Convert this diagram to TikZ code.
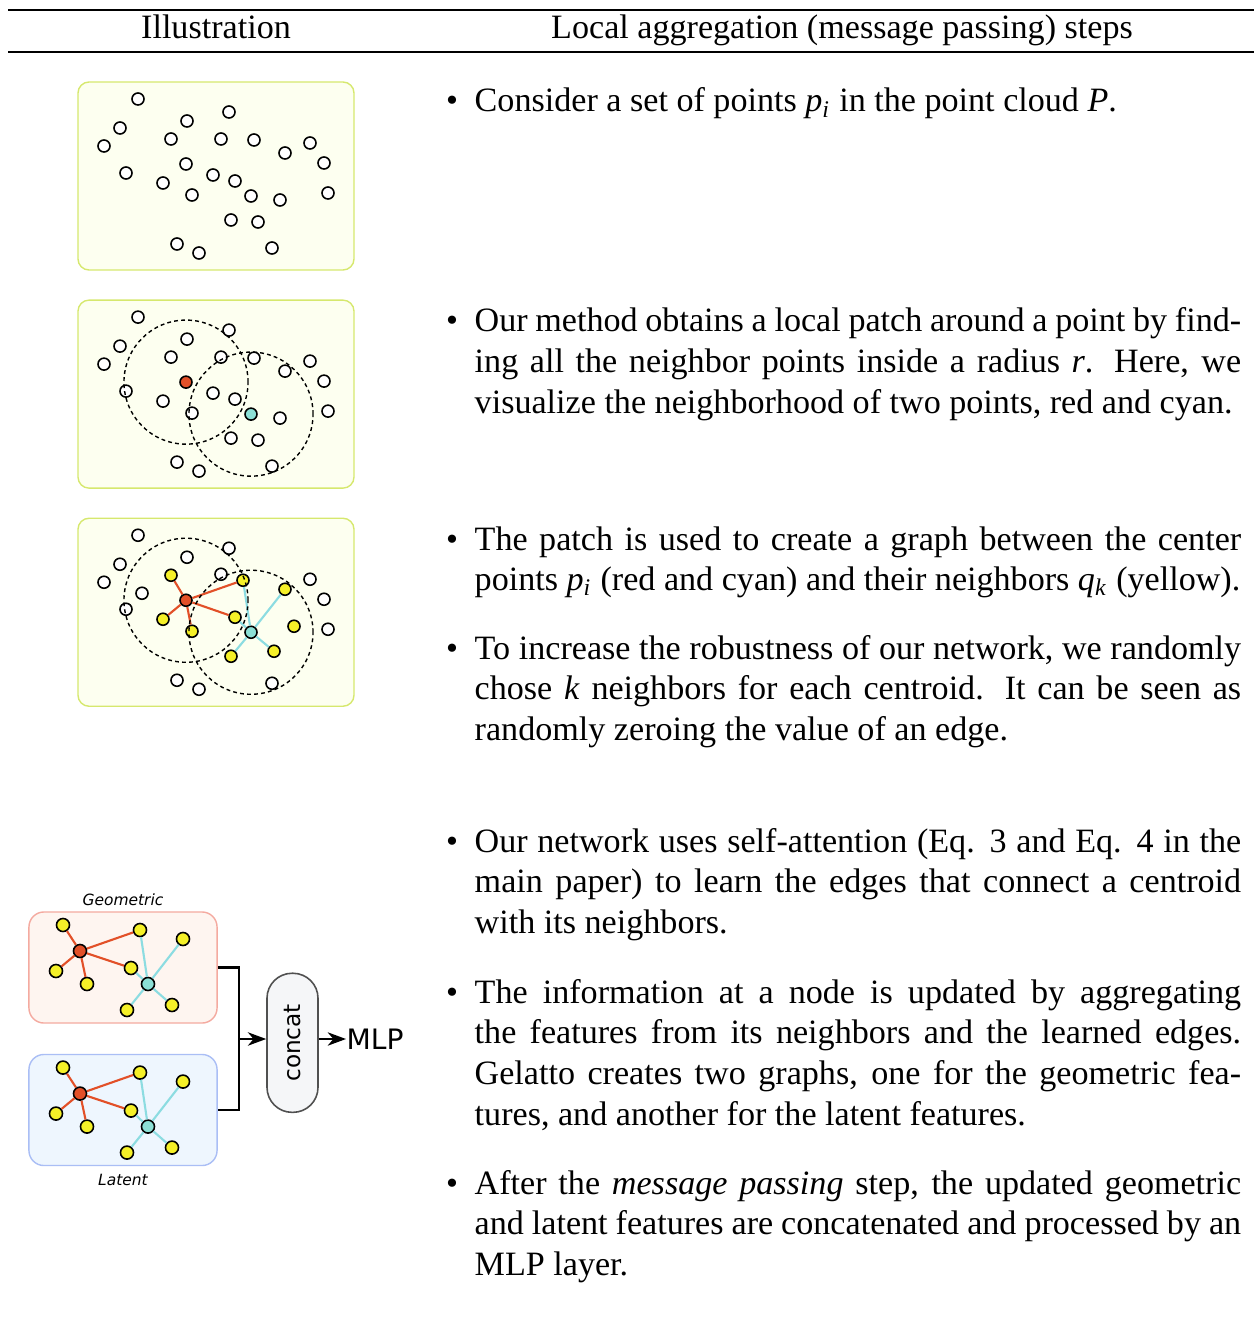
\documentclass[tikz,border=0pt]{standalone}
\usepackage{fontspec}
\setmainfont{Liberation Serif}
\newfontfamily\figfont{DejaVu Sans}
\usepackage{graphicx}
\usetikzlibrary{arrows.meta,positioning}
\definecolor{panelfill}{RGB}{253,255,240}
\definecolor{paneledge}{RGB}{214,232,110}
\definecolor{ptred}{RGB}{226,80,40}
\definecolor{ptcyan}{RGB}{140,224,214}
\definecolor{edgecyan}{RGB}{140,220,225}
\definecolor{ptyellow}{RGB}{245,240,40}
\definecolor{geofill}{RGB}{254,245,240}
\definecolor{geoedge}{RGB}{244,170,160}
\definecolor{latfill}{RGB}{238,246,254}
\definecolor{latedge}{RGB}{170,190,245}
\definecolor{catfill}{RGB}{245,246,248}
\definecolor{catedge}{RGB}{80,80,80}
\newcommand{\bodyfont}{\fontsize{9.7}{11.58}\selectfont}
\tikzstyle{panel}=[draw=paneledge, fill=panelfill, line width=0.4pt, rounded corners=0.11cm]
\tikzstyle{pt}=[circle, draw, fill=white, inner sep=0pt, minimum size=0.12cm, line width=0.45pt]
\tikzstyle{redpt}=[pt, fill=ptred]
\tikzstyle{cyanpt}=[pt, fill=ptcyan]
\tikzstyle{yelpt}=[pt, fill=ptyellow]
\tikzstyle{gpt}=[minimum size=0.13cm]
\tikzstyle{redge}=[draw=ptred, line width=0.6pt]
\tikzstyle{cedge}=[draw=edgecyan, line width=0.6pt]
\tikzstyle{nbrcircle}=[draw, dash pattern=on 1.1pt off 0.9pt, line width=0.4pt]
\tikzstyle{hdr}=[anchor=base, inner sep=0pt, font=\bodyfont]
\tikzstyle{bul}=[anchor=base, inner sep=0pt, font=\bodyfont]
\tikzstyle{stepitem}=[anchor=base west, inner sep=0pt, text width=7.66cm, align=justify, font=\bodyfont]
\tikzstyle{geobox}=[draw=geoedge, fill=geofill, rounded corners=0.15cm, minimum width=1.88cm, minimum height=1.11cm, line width=0.4pt]
\tikzstyle{latbox}=[draw=latedge, fill=latfill, rounded corners=0.15cm, minimum width=1.88cm, minimum height=1.11cm, line width=0.4pt]
\tikzstyle{catbox}=[draw=catedge, fill=catfill, rounded corners=0.25cm, minimum width=0.51cm, minimum height=1.39cm, inner sep=0pt, line width=0.45pt, font=\figfont\fontsize{6.6}{7}\selectfont]
\tikzstyle{boxlabel}=[inner sep=0pt, font=\figfont\itshape\fontsize{4.4}{5}\selectfont]
\tikzstyle{flow}=[draw, line width=0.6pt]
% points of the cloud, without the two centres
\def\cloudpts{138/99,229/112,187/121,120/128,171/139,221/139,254/140,104/146,310/143,285/153,324/163,126/173,213/175,235/181,163/183,192/195,280/200,328/193,231/220,258/222,177/244,199/253,272/248}
% small graph of the lower illustration
\newcommand{\gelgraph}[1]{%
  \node[redpt, gpt] (#1c1) at (80,951) {};
  \node[cyanpt, gpt] (#1c2) at (148,984) {};
  \foreach \x/\y [count=\i] in {63/925,140/930,183/939,56/971,87/984,131/968,127/1010,172/1005}
    \node[yelpt, gpt] (#1q\i) at (\x,\y) {};
  \path[redge] (#1c1) edge (#1q1) edge (#1q2) edge (#1q4) edge (#1q5) edge (#1q6);
  \path[cedge] (#1c2) edge (#1q2) edge (#1q3) edge (#1q6) edge (#1q7) edge (#1q8);
}
\begin{document}
\begin{tikzpicture}[x=0.01cm,y=-0.01cm,>={Stealth[length=5.2pt,width=3.8pt,inset=1.6pt]}]
\useasboundingbox (0,0) rectangle (1254,1322);
% header
\draw[line width=0.45pt] (8,10) -- (1254,10);
\draw[line width=0.45pt] (8,52) -- (1254,52);
\node[hdr] (hdill) at (216,39) {Illustration};
\node[hdr] (hdsteps) at (842,39) {Local aggregation (message passing) steps};

% panel 1: the point cloud
\draw[panel] (78,82) rectangle (354,270);
\foreach \x/\y in \cloudpts \node[pt] at (\x,\y) {};
\node[pt] at (186,164) {};
\node[pt] at (251,196) {};

% panel 2: neighbourhoods
\begin{scope}[yshift=-2.18cm]
\draw[panel] (78,82) rectangle (354,270);
\foreach \x/\y in \cloudpts \node[pt] at (\x,\y) {};
\node[redpt] (rc) at (186,164) {};
\node[cyanpt] (cc) at (251,196) {};
\draw[nbrcircle] (rc) circle[radius=0.62cm];
\draw[nbrcircle] (cc) circle[radius=0.62cm];
\end{scope}

% panel 3: graph to the neighbours
\begin{scope}[yshift=-4.36cm]
\draw[panel] (78,82) rectangle (354,270);
\foreach \x/\y in {138/99,229/112,187/121,120/128,221/138,104/146,142/157,310/143,324/163,126/173,328/193,177/244,199/253,272/247}
  \node[pt] at (\x,\y) {};
\node[redpt] (c1) at (186,164) {};
\node[cyanpt] (c2) at (251,196) {};
\foreach \x/\y [count=\i] in {171/139,243/144,285/153,163/183,192/195,235/181,294/190,231/220,274/215}
  \node[yelpt] (q\i) at (\x,\y) {};
\path[redge] (c1) edge (q1) edge (q2) edge (q6) edge (q5) edge (q4);
\path[cedge] (c2) edge (q2) edge (q3) edge (q9) edge (q8) edge (q6);
\draw[nbrcircle] (c1) circle[radius=0.62cm];
\draw[nbrcircle] (c2) circle[radius=0.62cm];
\end{scope}

% panel 4: geometric and latent graphs
\node[geobox] (geo) at (123,967.5) {};
\node[latbox] (lat) at (123,1110) {};
\node[boxlabel, above=0.05cm of geo] (geolbl) {Geometric};
\node[boxlabel, below=0.07cm of lat] (latlbl) {Latent};
\gelgraph{g}
\begin{scope}[yshift=-1.425cm]
\gelgraph{l}
\end{scope}
\node[catbox] (cat) at (292.5,1042.8) {\rotatebox{90}{concat}};
\coordinate (jn) at (239,1039);
\node[inner sep=0pt, anchor=west, font=\figfont\fontsize{8}{9}\selectfont] (mlp) at (346,1039) {MLP};
\draw[flow] (geo.east) -| (jn) |- (lat.east);
\draw[flow,->] (jn) -- (jn -| cat.west);
\draw[flow,->] (jn -| cat.east) -- (mlp.west);

% steps
\node[bul] (b1) at (452,112) {\textbullet};
\node[stepitem] (s1) at (474,112) {Consider a set of points \textit{p}\textsubscript{\textit{i}} in the point cloud \textit{P}.};
\node[bul] (b2) at (452,332) {\textbullet};
\node[stepitem] (s2) at (474,332) {Our method obtains a local patch around a point by find-\linebreak ing all the neighbor points inside a radius \textit{r}. Here, we\linebreak visualize the neighborhood of two points, red and cyan.};
\node[bul] (b3) at (452,550) {\textbullet};
\node[stepitem] (s3) at (474,550) {The patch is used to create a graph between the center\linebreak points \textit{p}\textsubscript{\textit{i}} (red and cyan) and their neighbors \textit{q}\textsubscript{\textit{k}} (yellow).};
\node[bul] (b4) at (452,659) {\textbullet};
\node[stepitem] (s4) at (474,659) {To increase the robustness of our network, we randomly\linebreak chose \textit{k} neighbors for each centroid. It can be seen as\linebreak randomly zeroing the value of an edge.};
\node[bul] (b5) at (452,852) {\textbullet};
\node[stepitem] (s5) at (474,852) {Our network uses self-attention (Eq. 3 and Eq. 4 in the\linebreak main paper) to learn the edges that connect a centroid\linebreak with its neighbors.};
\node[bul] (b6) at (452,1003) {\textbullet};
\node[stepitem] (s6) at (474,1003) {The information at a node is updated by aggregating\linebreak the features from its neighbors and the learned edges.\linebreak Gelatto creates two graphs, one for the geometric fea-\linebreak tures, and another for the latent features.};
\node[bul] (b7) at (452,1194) {\textbullet};
\node[stepitem] (s7) at (474,1194) {After the \emph{message passing} step, the updated geometric\linebreak and latent features are concatenated and processed by an\linebreak MLP layer.};
\end{tikzpicture}
\end{document}
